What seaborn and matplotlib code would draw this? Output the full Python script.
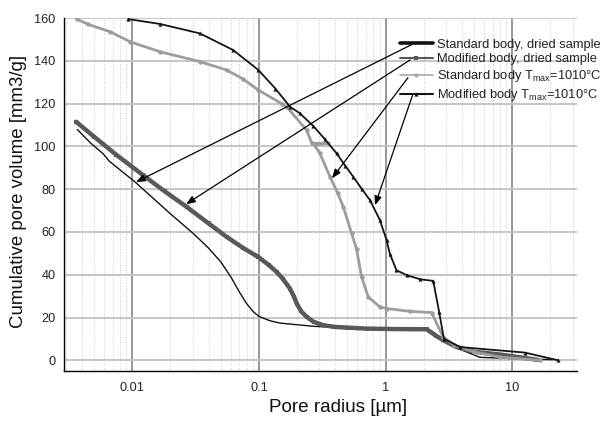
import matplotlib
matplotlib.use("Agg")
import matplotlib.pyplot as plt
from matplotlib.lines import Line2D
from matplotlib.ticker import FixedLocator, FixedFormatter, LogLocator, NullFormatter, MultipleLocator
import seaborn as sns
import pandas as pd

# ---------------- data ----------------
std_dried_r = [0.00368, 0.0047, 0.0059, 0.0066, 0.0105, 0.0199, 0.03, 0.04, 0.05, 0.06,
               0.07, 0.08, 0.09, 0.1, 0.122, 0.1465, 0.269, 0.493, 0.903, 2.24,
               2.6, 2.9, 3.3, 4.0, 5.56, 10.0, 21.0]
std_dried_v = [107.9, 101.5, 96.5, 93.0, 83.4, 68.6, 59.5, 52.5, 46.0, 39.0,
               32.0, 26.5, 22.8, 20.5, 18.5, 17.4, 15.9, 15.1, 14.4, 14.2,
               11.5, 9.8, 7.5, 4.8, 1.4, 0.8, 0.3]

mod_dried_r = [0.0036, 0.005, 0.0075, 0.0122, 0.018, 0.0269, 0.04, 0.0556, 0.075, 0.0989,
               0.12, 0.138, 0.155, 0.176, 0.19, 0.199, 0.215, 0.238, 0.27, 0.322,
               0.4, 0.493, 0.708, 1.2, 2.11, 2.5, 2.85, 3.64, 5.0, 8.0, 15.6]
mod_dried_v = [111.5, 104.5, 96.0, 86.5, 79.0, 71.7, 64.0, 57.7, 52.5, 48.3,
               44.5, 41.3, 38.0, 33.5, 29.5, 26.5, 23.0, 20.3, 18.0, 16.4,
               15.6, 15.3, 14.8, 14.6, 14.5, 11.5, 9.4, 6.2, 4.0, 2.7, 0.3]

std_tmax_r = [0.00364, 0.0045, 0.00667, 0.0096, 0.0166, 0.0342, 0.0556, 0.075, 0.099, 0.151,
              0.1656, 0.238, 0.262, 0.352, 0.275, 0.303, 0.364, 0.42, 0.464, 0.54,
              0.59, 0.647, 0.73, 0.903, 1.02, 1.556, 2.31, 2.85, 3.5, 5.0, 8.0, 16.6]
std_tmax_v = [159.5, 157.0, 153.6, 148.9, 144.2, 139.6, 135.7, 131.5, 126.3, 120.0,
              118.5, 107.6, 101.4, 101.4, 100.5, 96.7, 85.8, 78.0, 71.7, 59.3,
              52.0, 39.0, 29.6, 24.9, 24.2, 22.9, 22.3, 10.9, 7.0, 4.0, 1.5, 0.0]

mod_tmax_r = [0.0093, 0.0166, 0.0342, 0.0627, 0.099, 0.135, 0.176, 0.21, 0.269, 0.33,
              0.411, 0.48, 0.556, 0.65, 0.753, 0.903, 1.02, 1.08, 1.22, 1.47,
              1.87, 2.38, 2.65, 2.89, 3.87, 12.6, 23.1]
mod_tmax_v = [159.5, 157.2, 152.8, 145.0, 135.7, 127.0, 118.5, 115.5, 109.5, 103.5,
              96.7, 91.0, 85.8, 80.0, 74.9, 65.5, 56.1, 49.9, 42.1, 39.8,
              37.9, 37.1, 22.6, 10.1, 6.2, 3.6, 0.0]

labels = ["Standard body, dried sample",
          "Modified body, dried sample",
          r"Standard body T$_{\mathregular{max}}$=1010°C",
          r"Modified body T$_{\mathregular{max}}$=1010°C"]

# arrow targets (points on the curves), one per legend entry
arrow_r = [0.0107, 0.0266, 0.378, 0.826]
arrow_v = [83.3, 73.0, 85.1, 72.5]

x_ticks = [0.01, 0.1, 1, 10]
x_ticklabels = ["0.01", "0.1", "1", "10"]
y_ticks = [0, 20, 40, 60, 80, 100, 120, 140, 160]

# ---------------- styling ----------------
sns.set_theme(style="white")
plt.rcParams["font.family"] = ["Liberation Sans", "DejaVu Sans"]
plt.rcParams["mathtext.fontset"] = "custom"
plt.rcParams["mathtext.rm"] = "Liberation Sans"

fig = plt.figure(figsize=(6.06, 4.28), dpi=100)
ax = fig.add_axes([64 / 606, (428 - 371) / 428, 513 / 606, 353 / 428])

def frame(r, v, name):
    return pd.DataFrame({"r": r, "V": v, "series": name})

styles = [
    dict(color="#111111", lw=1.0, marker=None, ms=0),
    dict(color="#595959", lw=3.2, marker="s", ms=3.2),
    dict(color="#9d9d9d", lw=2.0, marker="o", ms=3.2),
    dict(color="#151515", lw=1.3, marker="^", ms=3.0),
]
series = [(std_dried_r, std_dried_v), (mod_dried_r, mod_dried_v),
          (std_tmax_r, std_tmax_v), (mod_tmax_r, mod_tmax_v)]

for (r, v), lab, st in zip(series, labels, styles):
    df = frame(r, v, lab)
    kw = dict(data=df, x="r", y="V", ax=ax, sort=False, estimator=None,
              color=st["color"], linewidth=st["lw"], legend=False)
    if st["marker"]:
        kw.update(marker=st["marker"], markersize=st["ms"],
                  markeredgewidth=0, markerfacecolor=st["color"])
    sns.lineplot(**kw)

ax.set_xscale("log")
ax.set_xlim(0.00289, 32.5)
ax.set_ylim(-5, 160)

ax.xaxis.set_major_locator(FixedLocator(x_ticks))
ax.xaxis.set_major_formatter(FixedFormatter(x_ticklabels))
ax.xaxis.set_minor_locator(LogLocator(base=10, subs=[2, 3, 4, 5, 6, 7, 8, 9], numticks=20))
ax.xaxis.set_minor_formatter(NullFormatter())
ax.yaxis.set_major_locator(FixedLocator(y_ticks))
ax.yaxis.set_minor_locator(MultipleLocator(10))

ax.grid(False)
ax.grid(True, which="major", axis="x", color="#909090", lw=1.3, ls="-")
ax.grid(True, which="minor", axis="x", color="#c8c8c8", lw=0.7, ls=":")
ax.grid(True, which="major", axis="y", color="#c2c2c2", lw=1.3, ls="-")
ax.set_axisbelow(True)

for s in ["top", "right"]:
    ax.spines[s].set_visible(False)
for s in ["left", "bottom"]:
    ax.spines[s].set_color("black")
    ax.spines[s].set_linewidth(1.0)

ax.tick_params(axis="both", which="both", direction="in", colors="black",
               labelcolor="#222222", labelsize=9.2)
ax.tick_params(axis="y", which="major", length=6, width=1, pad=6)
ax.tick_params(axis="y", which="minor", length=3.5, width=1)
ax.tick_params(axis="x", which="major", length=0, pad=8)
ax.tick_params(axis="x", which="minor", length=3.5, width=1)

ax.set_xlabel("Pore radius [µm]", fontsize=13.6, color="#111111")
ax.set_ylabel("Cumulative pore volume [mm3/g]", fontsize=13.4, color="#111111")
ax.xaxis.set_label_coords(0.534, -0.08)
ax.yaxis.set_label_coords(-0.072, 0.51)

# legend
handles = [
    Line2D([], [], color="#111111", lw=2.6),
    Line2D([], [], color="#595959", lw=1.5, marker="s", ms=3, markeredgewidth=0),
    Line2D([], [], color="#a8a8a8", lw=1.2, marker="o", ms=3, markeredgewidth=0),
    Line2D([], [], color="#151515", lw=1.5, marker="^", ms=3, markeredgewidth=0),
]
leg = ax.legend(handles, labels, loc="upper left", bbox_to_anchor=(336 / 513, (371 - 38.5) / 353),
                frameon=False, fontsize=9.3, handlelength=2.55, handletextpad=0.3,
                labelspacing=0.22, borderpad=0, borderaxespad=0, numpoints=1)
for t in leg.get_texts():
    t.set_color("#222222")

fig.canvas.draw()
renderer = fig.canvas.get_renderer()
fracs = [0.39, 0.33, 0.27, 0.39]
dys = [-1, -2, -3, -2]
for line, rr, vv, fr, dy in zip(leg.get_lines(), arrow_r, arrow_v, fracs, dys):
    bb = line.get_window_extent(renderer)
    sx = bb.x0 + fr * bb.width
    sy = (bb.y0 + bb.y1) / 2 + dy
    ax.annotate("", xy=(rr, vv), xycoords="data", xytext=(sx, sy), textcoords="figure pixels",
                arrowprops=dict(arrowstyle="-|>,head_length=0.45,head_width=0.18",
                                color="black", lw=0.9, shrinkA=0, shrinkB=0))

fig.savefig("out.png", dpi=100)
